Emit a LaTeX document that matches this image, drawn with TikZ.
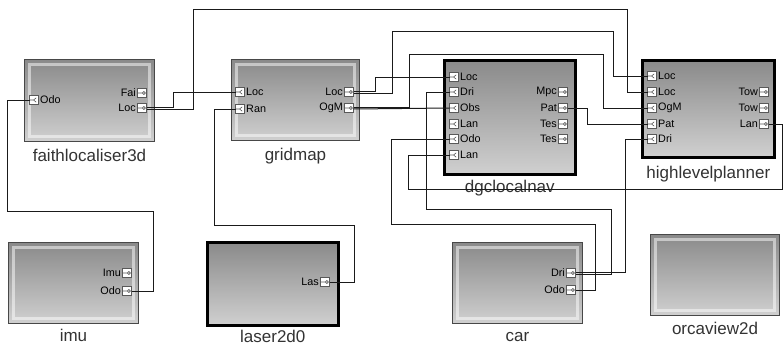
\documentclass[tikz,border=0pt]{standalone}
\usepackage{fontspec}
\setmainfont{Liberation Sans}
\usetikzlibrary{positioning}
\definecolor{boxtop}{HTML}{8A8A8A}
\definecolor{boxbot}{HTML}{D0D0D0}
\definecolor{boxline}{HTML}{484848}
\definecolor{wirec}{HTML}{1A1A1A}

\begin{document}
\begin{tikzpicture}[
    x=1pt, y=-1pt,
    modbase/.style={draw=boxline,line width=1pt,top color=boxtop,bottom color=boxbot,
      anchor=north west,inner sep=0pt,minimum width=130pt,minimum height=82pt},
    module/.style={modbase,
      path picture={\draw[white,opacity=0.5,line width=2.5pt]
        ([xshift=5pt,yshift=-5pt]path picture bounding box.north west) rectangle
        ([xshift=-5pt,yshift=5pt]path picture bounding box.south east);}},
    selmodule/.style={modbase,draw=black,line width=2.6pt},
    modname/.style={font=\fontsize{17}{17}\selectfont,text=black!80,inner sep=0pt,anchor=base},
    port/.style={draw=gray!70!black,fill=white,line width=0.6pt,minimum width=9pt,
      minimum height=9.5pt,inner sep=0pt,outer sep=0pt},
    portlabel/.style={font=\fontsize{10.8}{11}\selectfont,inner sep=1.5pt},
    inport/.style={port,label={[portlabel]right:#1},
      path picture={\draw[line width=0.6pt]
        (path picture bounding box.west) -- (path picture bounding box.center)
        ([xshift=2.2pt,yshift=2.2pt]path picture bounding box.center) --
        ([xshift=-0.4pt]path picture bounding box.center) --
        ([xshift=2.2pt,yshift=-2.2pt]path picture bounding box.center);}},
    outport/.style={port,label={[portlabel]left:#1},
      path picture={\draw[line width=0.6pt]
        (path picture bounding box.west) -- ([xshift=0.4pt]path picture bounding box.center)
        ++(1.5pt,0) circle[radius=1.5pt];}},
    wire/.style={draw=wirec,line width=1pt}
  ]
    \fill[white] (0,0) rectangle (784,346);
    \useasboundingbox (0,0) rectangle (784,346);

    % modules
    \node[module] (fl) at (24,59) {};
    \node[module,minimum width=128pt,minimum height=81pt] (gm) at (231,59) {};
    \node[selmodule,minimum width=131pt,minimum height=114pt] (dgc) at (443,59) {};
    \node[selmodule,minimum width=132pt,minimum height=97pt] (hlp) at (641,59) {};
    \node[module,minimum height=81pt] (imu) at (8,242) {};
    \node[selmodule,minimum width=131pt,minimum height=83pt] (las) at (206,241) {};
    \node[module,minimum height=81pt] (car) at (452,242) {};
    \node[module,minimum width=129pt,minimum height=81pt] (orca) at (650,234) {};

    \node[modname] (fl-name) at ([yshift=-19pt]fl.south) {faithlocaliser3d};
    \node[modname] (gm-name) at ([yshift=-19pt]gm.south) {gridmap};
    \node[modname] (dgc-name) at ([yshift=-17pt]dgc.south) {dgclocalnav};
    \node[modname] (hlp-name) at ([yshift=-20pt]hlp.south) {highlevelplanner};
    \node[modname] (imu-name) at ([yshift=-17pt]imu.south) {imu};
    \node[modname] (las-name) at ([yshift=-16pt]las.south) {laser2d0};
    \node[modname] (car-name) at ([yshift=-17pt]car.south) {car};
    \node[modname] (orca-name) at ([yshift=-18pt]orca.south) {orcaview2d};

    % ports
    \node[inport=Odo] (fl-odo) at (34,100) {};
    \node[outport=Fai] (fl-fai) at (142,93) {};
    \node[outport=Loc] (fl-loc) at (142,108) {};

    \node[inport=Loc] (gm-loc) at (240,92) {};
    \node[inport=Ran] (gm-ran) at (240,109) {};
    \node[outport=Loc] (gm-loco) at (349,92) {};
    \node[outport=OgM] (gm-ogm) at (349,108) {};

    \node[inport=Loc] (dgc-loc) at (454,77) {};
    \node[inport=Dri] (dgc-dri) at (454,92) {};
    \node[inport=Obs] (dgc-obs) at (454,108) {};
    \node[inport=Lan] (dgc-lan) at (454,124) {};
    \node[inport=Odo] (dgc-odo) at (454,139) {};
    \node[inport=Lan] (dgc-lan2) at (454,155) {};
    \node[outport=Mpc] (dgc-mpc) at (563,92) {};
    \node[outport=Pat] (dgc-pat) at (563,108) {};
    \node[outport=Tes] (dgc-tes) at (563,124) {};
    \node[outport=Tes] (dgc-tes2) at (563,139) {};

    \node[inport=Loc] (hlp-loc) at (652,76) {};
    \node[inport=Loc] (hlp-loc2) at (652,92) {};
    \node[inport=OgM] (hlp-ogm) at (652,108) {};
    \node[inport=Pat] (hlp-pat) at (652,124) {};
    \node[inport=Dri] (hlp-dri) at (652,139) {};
    \node[outport=Tow] (hlp-tow) at (764,92) {};
    \node[outport=Tow] (hlp-tow2) at (764,108) {};
    \node[outport=Lan] (hlp-lan) at (764,124) {};

    \node[outport=Imu] (imu-imu) at (127,273) {};
    \node[outport=Odo] (imu-odo) at (127,291) {};

    \node[outport=Las] (las-las) at (325,282) {};

    \node[outport=Dri] (car-dri) at (571,273) {};
    \node[outport=Odo] (car-odo) at (571,290) {};

    % wires
    \draw[wire] ([yshift=1pt]fl-loc.east) -- ++(27,0) |- (gm-loc.west);
    \draw[wire] ([yshift=-1pt]fl-loc.east) -| ++(47,-100) -| ([xshift=-20pt]hlp-loc2.west) -- (hlp-loc2.west);
    \draw[wire] ([yshift=1pt]gm-loco.east) -- ++(21.5,0) |- (dgc-loc.west);
    \draw[wire] ([yshift=-1pt]gm-loco.east) -| ++(38.5,-62) -| ([xshift=-34.5pt]hlp-loc.west) -- (hlp-loc.west);
    \draw[wire] ([yshift=1pt]gm-ogm.east) -| ++(55.5,-53) -| ([xshift=-44.5pt]hlp-ogm.west) -- (hlp-ogm.west);
    \draw[wire] ([yshift=-1pt]gm-ogm.east) -- (dgc-obs.west);
    \draw[wire] (dgc-pat.east) -- ++(19.5,0) |- (hlp-pat.west);
    \draw[wire] (hlp-lan.east) -| ++(13.5,65) -| ([xshift=-41.5pt]dgc-lan2.west) -- (dgc-lan2.west);
    \draw[wire] ([yshift=-1pt]car-dri.east) -| ++(35.5,-65) -| ([xshift=-23.5pt]dgc-dri.west) -- (dgc-dri.west);
    \draw[wire] ([yshift=1pt]car-dri.east) -| ([xshift=-22.5pt]hlp-dri.west) -- (hlp-dri.west);
    \draw[wire] (car-odo.east) -| ++(19.5,-66) -| ([xshift=-58.5pt]dgc-odo.west) -- (dgc-odo.west);
    \draw[wire] (imu-odo.east) -| ++(21.5,-80) -| ([xshift=-22.5pt]fl-odo.west) -- (fl-odo.west);
    \draw[wire] (las-las.east) -| ++(24.5,-57) -| ([xshift=-21.5pt]gm-ran.west) -- (gm-ran.west);
  \end{tikzpicture}
\end{document}
